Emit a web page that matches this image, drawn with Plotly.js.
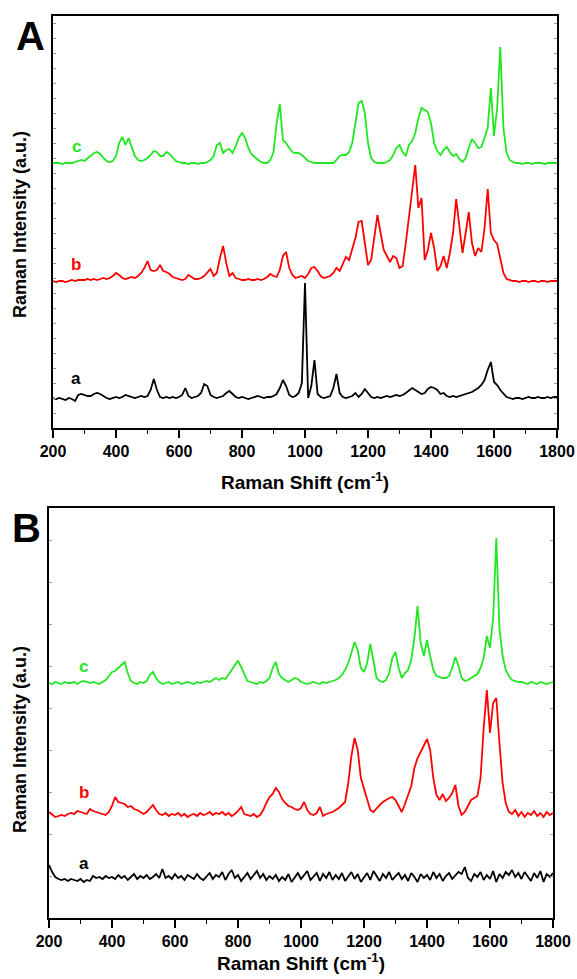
<!DOCTYPE html>
<html>
<head>
<meta charset="utf-8">
<script src="https://cdn.plot.ly/plotly-3.0.1.min.js"></script>
<style>html,body{margin:0;padding:0;background:#fff;}#chart{width:577px;height:979px;}</style>
</head>
<body>
<div id="chart"></div>
<script>
// Raman shift grid (cm^-1)
const wavenumber = [
200,210,220,230,240,250,260,270,280,290,
300,310,320,330,340,350,360,370,380,390,
400,410,420,430,440,450,460,470,480,490,
500,510,520,530,540,550,560,570,580,590,
600,610,620,630,640,650,660,670,680,690,
700,710,720,730,740,750,760,770,780,790,
800,810,820,830,840,850,860,870,880,890,
900,910,920,930,940,950,960,970,980,990,
1000,1010,1020,1030,1040,1050,1060,1070,1080,1090,
1100,1110,1120,1130,1140,1150,1160,1170,1180,1190,
1200,1210,1220,1230,1240,1250,1260,1270,1280,1290,
1300,1310,1320,1330,1340,1350,1360,1370,1380,1390,
1400,1410,1420,1430,1440,1450,1460,1470,1480,1490,
1500,1510,1520,1530,1540,1550,1560,1570,1580,1590,
1600,1610,1620,1630,1640,1650,1660,1670,1680,1690,
1700,1710,1720,1730,1740,1750,1760,1770,1780,1790,
1800];

// Panel A spectra (offset intensities, a.u.)
const specA_a = [
30,29,30,29,28,30,29,27,33,34,
33,32,32,34,35,34,32,30,29,30,
31,30,31,33,32,31,30,31,32,31,
32,38,49,38,31,30,31,30,31,30,
31,33,40,32,30,31,32,35,44,42,
33,31,30,31,32,35,37,34,31,30,
31,30,29,30,31,32,31,30,31,31,
32,34,40,48,42,33,31,32,35,45,
145,30,42,68,34,31,30,31,32,40,
54,35,31,30,31,32,35,31,34,39,
35,31,30,31,30,31,32,31,32,33,
32,33,35,38,40,38,36,34,35,39,
41,40,38,34,35,32,31,32,31,32,
33,34,35,36,38,40,43,48,58,66,
46,43,38,34,31,30,29,30,30,29,
30,31,30,30,31,30,30,31,30,31,
31];
const specA_b = [
147,146,147,147,146,147,148,147,148,148,
148,149,148,149,148,149,150,149,150,152,
155,153,150,149,150,151,150,152,155,160,
167,158,157,158,163,157,156,154,151,150,
149,148,149,153,151,149,149,150,152,156,
159,152,155,170,182,165,152,155,150,149,
148,148,149,148,148,149,148,149,151,154,
152,151,158,172,176,160,153,150,151,152,
150,154,160,161,157,152,150,151,152,155,
160,157,164,171,168,178,190,206,207,185,
163,168,190,213,195,178,172,166,172,170,
160,162,185,210,240,263,220,230,168,178,
195,180,157,162,172,160,175,195,229,200,
175,195,216,185,172,180,176,200,239,195,
188,184,170,155,149,148,147,147,146,147,
147,146,147,147,146,147,147,146,147,147,
147];
const specA_c = [
265,265,265,264,265,265,265,266,267,268,
267,270,273,275,276,274,270,267,266,267,
272,285,291,283,290,282,272,268,267,268,
270,273,277,276,272,272,276,274,270,267,
266,265,265,264,265,265,264,265,265,266,
268,272,283,285,275,278,279,275,282,290,
295,290,280,274,271,268,266,265,265,268,
276,305,324,288,285,280,276,275,275,273,
270,267,266,265,265,265,265,265,265,265,
268,272,273,273,276,285,305,325,327,315,
285,270,266,265,265,265,266,268,273,280,
283,276,272,283,287,295,310,320,318,316,
305,285,277,273,278,281,276,272,274,269,
266,270,280,289,285,280,281,290,300,340,
292,320,381,300,275,268,266,265,265,264,
265,265,264,265,265,265,264,265,265,265,
265];

// Panel B spectra (offset intensities, a.u.)
const specB_a = [
53,46,41,39,38,39,37,39,38,37,
39,36,38,37,42,40,41,39,42,40,
41,39,43,40,42,38,41,44,39,42,
40,43,39,41,44,40,49,40,42,39,
44,40,42,38,43,41,39,44,40,38,
42,45,39,43,41,46,38,44,48,40,
43,37,41,45,39,43,47,40,44,38,
42,39,43,37,41,38,44,36,40,45,
39,43,47,38,42,45,37,44,40,46,
38,43,39,45,37,42,46,39,44,36,
41,45,38,47,42,37,44,40,46,38,
42,45,39,43,37,45,41,36,44,40,
43,38,46,40,44,37,42,45,39,43,
46,44,51,40,37,44,41,46,38,43,
39,47,36,44,40,46,43,48,41,45,
39,46,42,37,45,40,47,36,44,41,
45];
const specB_b = [
106,103,101,102,103,102,104,105,104,107,
106,105,104,109,107,106,105,104,103,106,
112,121,116,115,114,111,112,109,108,106,
104,106,109,113,108,104,103,105,102,104,
103,105,102,104,101,103,104,102,105,103,
104,106,103,105,104,106,103,105,102,104,
107,111,104,103,102,104,101,103,108,115,
121,124,130,126,119,115,112,111,109,108,
110,116,108,104,103,105,111,102,104,105,
106,108,110,113,116,135,162,180,168,140,
130,118,108,106,110,113,116,118,120,121,
118,112,106,114,122,132,150,160,166,172,
179,168,140,123,118,124,117,120,125,133,
112,103,106,112,118,120,122,140,190,228,
185,215,220,175,135,115,106,104,108,102,
106,101,105,103,107,102,105,101,106,103,
105];
const specB_c = [
235,234,236,235,234,236,235,235,236,234,
236,237,236,235,236,235,234,236,238,242,
246,247,250,254,256,245,237,235,234,236,
235,237,243,246,240,236,234,235,236,234,
235,236,234,235,236,235,234,236,235,236,
237,236,238,240,238,240,239,243,248,253,
257,251,243,237,236,235,234,236,235,237,
240,250,256,244,240,238,236,238,240,239,
236,235,234,235,236,235,234,236,235,236,
237,238,240,243,248,255,265,276,268,250,
246,255,274,255,240,237,236,238,245,260,
266,250,240,245,248,258,280,312,275,262,
278,262,248,242,241,240,240,242,250,261,
252,240,237,238,240,242,244,250,260,282,
270,300,380,290,262,248,242,238,237,236,
236,235,234,236,235,234,236,235,234,235,
236];

const sampleLabels = ['a','b','c'];
const colors = ['#000000','#ff0000','#22e622'];
const xTicks = [200,400,600,800,1000,1200,1400,1600,1800];

const W = 577, H = 979;
const traces = [];
[specA_a, specA_b, specA_c].forEach((s,i)=>traces.push({x:wavenumber,y:s,type:'scatter',mode:'lines',line:{color:colors[i],width:1.8},xaxis:'x',yaxis:'y',hoverinfo:'skip'}));
[specB_a, specB_b, specB_c].forEach((s,i)=>traces.push({x:wavenumber,y:s,type:'scatter',mode:'lines',line:{color:colors[i],width:1.8},xaxis:'x2',yaxis:'y2',hoverinfo:'skip'}));

const bold = {family:'Liberation Sans, Arial, Helvetica, sans-serif', weight:'bold', color:'#000'};
function xax(d0,d1,anchor){
  return {domain:[d0/W,d1/W], anchor:anchor, range:[200,1800], tickmode:'array', tickvals:xTicks,
    ticks:'outside', ticklen:8, tickwidth:1.5, tickcolor:'#000',
    minor:{dtick:100, tick0:200, ticks:'outside', ticklen:4, tickwidth:1.2, tickcolor:'#000'},
    showline:true, linewidth:2, linecolor:'#000', mirror:true, showgrid:false, zeroline:false,
    tickfont:Object.assign({size:16},bold), fixedrange:true};
}
function yax(top,bottom,anchor,rng,dt){
  return {domain:[1-bottom/H,1-top/H], anchor:anchor, range:rng, showticklabels:false,
    ticks:'inside', ticklen:3, tickwidth:1, tickcolor:'#999', dtick:dt, tick0:0, mirror:'ticks',
    showline:true, linewidth:2, linecolor:'#000', showgrid:false, zeroline:false, fixedrange:true};
}

const ann = [];
function txt(x,y,t,size,color,angle){
  ann.push({xref:'paper',yref:'paper',x:x/W,y:1-y/H,text:t,showarrow:false,xanchor:'center',yanchor:'middle',
    textangle:angle||0,font:{family:bold.family,weight:'bold',size:size,color:color||'#000'}});
}
txt(30,36,'A',40);
txt(26,528,'B',40);
txt(20,225,'Raman Intensity (a.u.)',18,'#000',-90);
txt(20,740,'Raman Intensity (a.u.)',18,'#000',-90);
txt(305,481,'Raman Shift (cm<sup>-1</sup>)',19);
txt(301,962,'Raman Shift (cm<sup>-1</sup>)',19);
// sample labels (data coordinates)
const labA = [[274,49],[274,163],[274,281]];
const labB = [[311,55],[311,126],[311,252]];
labA.forEach((p,i)=>ann.push({xref:'x',yref:'y',x:p[0],y:p[1],text:sampleLabels[i],showarrow:false,xanchor:'center',yanchor:'middle',font:{family:bold.family,weight:'bold',size:17,color:colors[i]}}));
labB.forEach((p,i)=>ann.push({xref:'x2',yref:'y2',x:p[0],y:p[1],text:sampleLabels[i],showarrow:false,xanchor:'center',yanchor:'middle',font:{family:bold.family,weight:'bold',size:17,color:colors[i]}}));

const layout = {
  width:W, height:H, margin:{l:0,r:0,t:0,b:0}, paper_bgcolor:'#fff', plot_bgcolor:'#fff', showlegend:false,
  font:bold,
  xaxis:xax(53,557,'y'), yaxis:yax(16,428,'x',[0,412],15),
  xaxis2:xax(49,553,'y2'), yaxis2:yax(508,918,'x2',[0,410],42),
  annotations:ann
};
Plotly.newPlot('chart',traces,layout,{staticPlot:true,displayModeBar:false});
</script>
</body>
</html>
